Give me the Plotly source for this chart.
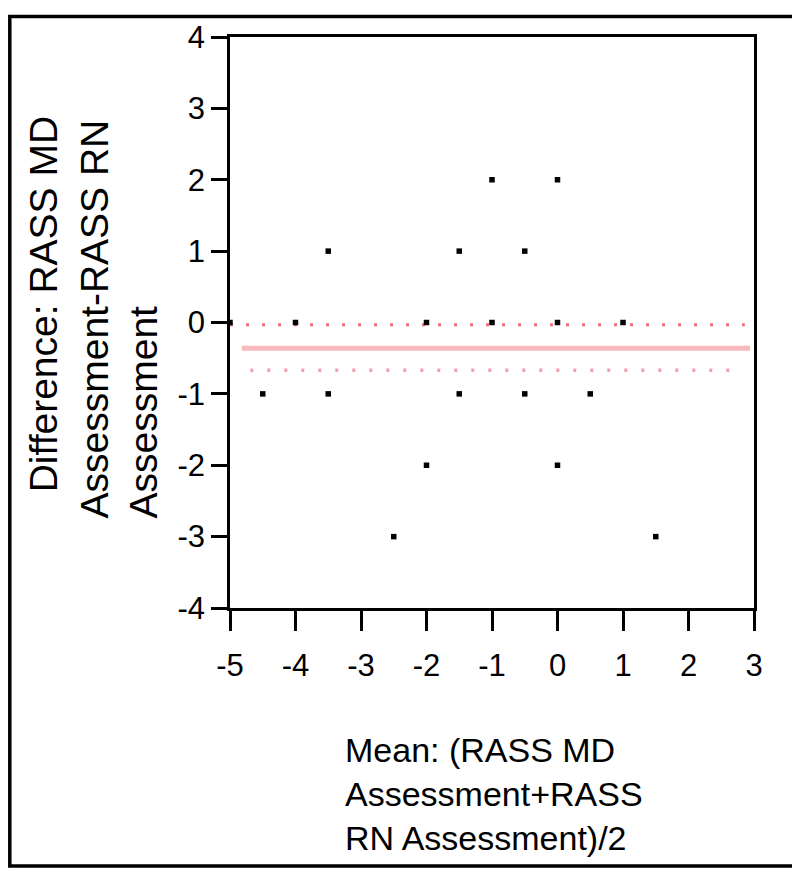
import plotly.graph_objects as go

# data
mean_vals = [-5, -4, -3.5, -4.5, -3.5, -2.5, -2, -2, -1.5, -1.5,
             -1, -1, -0.5, -0.5, 0, 0, 0, 0.5, 1, 1.5]
diff_vals = [0, 0, 1, -1, -1, -3, 0, -2, 1, -1,
             2, 0, 1, -1, 2, 0, -2, -1, 0, -3]

mean_diff = -0.36
upper_lim = -0.03
lower_lim = -0.67
mean_line_x = [-4.82, 2.94]
upper_line_x = [-5, 2.86]
lower_line_x = [-4.69, 2.82]

x_ticks = [-5, -4, -3, -2, -1, 0, 1, 2, 3]
x_tick_labels = ["-5", "-4", "-3", "-2", "-1", "0", "1", "2", "3"]
y_ticks = [-4, -3, -2, -1, 0, 1, 2, 3, 4]
y_tick_labels = ["-4", "-3", "-2", "-1", "0", "1", "2", "3", "4"]

# the page body adds an 8px margin, so the figure is shrunk by that much
OFF = 8
W, H = 800 - OFF, 874 - OFF
L, R, T, B = 230 - OFF, 754 - OFF, 30.5 - OFF, 608 - OFF
pw, ph = R - L, B - T


def px(x):
    return (x - OFF - L) / pw


def py(y):
    return (B - (y - OFF)) / ph


font = "Liberation Sans, Arial, sans-serif"

fig = go.Figure()

fig.add_trace(go.Scatter(x=upper_line_x, y=[upper_lim, upper_lim], mode="lines",
                         line=dict(color="rgb(238,110,125)", width=3, dash="3px,13px"),
                         hoverinfo="skip"))
fig.add_trace(go.Scatter(x=lower_line_x, y=[lower_lim, lower_lim], mode="lines",
                         line=dict(color="rgb(243,160,170)", width=3.5, dash="3px,14px"),
                         hoverinfo="skip"))
fig.add_trace(go.Scatter(x=mean_line_x, y=[mean_diff, mean_diff], mode="lines",
                         line=dict(color="rgb(247,185,190)", width=5),
                         hoverinfo="skip"))
fig.add_trace(go.Scatter(x=mean_vals, y=diff_vals, mode="markers",
                         marker=dict(symbol="square", size=5.5, color="black",
                                     line=dict(width=0))))

axis_common = dict(showgrid=False, zeroline=False, showline=True, mirror=True,
                   linecolor="black", linewidth=2.5, ticks="outside",
                   tickcolor="black", tickwidth=2.5,
                   tickfont=dict(family=font, size=31, color="black"))

fig.update_xaxes(range=[-5, 3], tickvals=x_ticks, ticktext=x_tick_labels,
                 ticklen=20, ticklabelstandoff=8, **axis_common)
fig.update_yaxes(range=[-4, 4], tickvals=y_ticks, ticktext=y_tick_labels,
                 ticklen=16, **axis_common)

fig.add_annotation(text="Mean: (RASS MD<br>Assessment+RASS<br>RN Assessment)/2",
                   xref="paper", yref="paper", x=px(343), y=py(796),
                   xanchor="left", yanchor="middle", align="left", showarrow=False,
                   font=dict(family=font, size=34, color="black"))

# y title, one rotated line at a time
y_title_lines = ["Difference: RASS MD", "Assessment-RASS RN", "Assessment"]
y_line_x = [43, 94, 143]
y_line_bottom = [493, 520, 520]
for txt, lx, lb in zip(y_title_lines, y_line_x, y_line_bottom):
    fig.add_annotation(text=txt, xref="paper", yref="paper", x=px(lx), y=py(lb),
                       xanchor="center", yanchor="bottom", textangle=-90,
                       showarrow=False, font=dict(family=font, size=39, color="black"))

# outer frame of the picture
fig.add_shape(type="rect", xref="paper", yref="paper",
              x0=px(OFF + 1.8), x1=px(794), y0=py(869), y1=py(OFF + 1.8),
              line=dict(color="black", width=3.5))

fig.update_layout(width=W, height=H, showlegend=False,
                  margin=dict(l=L, r=W - R, t=T, b=H - B),
                  paper_bgcolor="white", plot_bgcolor="white")

fig.write_html("out.html")
